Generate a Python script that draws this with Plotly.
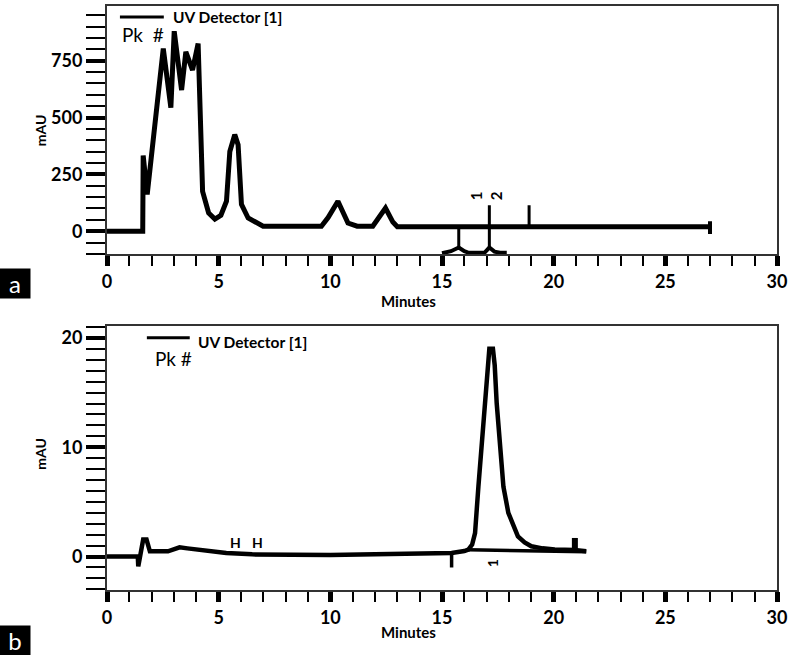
# Two HPLC chromatograms (UV detector), panel a and panel b
import plotly.graph_objects as go
from plotly.subplots import make_subplots

# Panel a: main trace (minutes, mAU)
a_time = [0, 1.6, 1.62, 1.8, 2.52, 2.86, 3.01, 3.34, 3.53, 3.83, 4.08, 4.28, 4.55, 4.83, 5.1, 5.35,
          5.5, 5.72, 5.87, 6.02, 6.32, 6.99, 9.6, 9.9, 10.34, 10.79, 11.2, 11.9, 12.47, 12.8, 13.0, 27.0]
a_mau = [0, 0, 333, 162, 804, 544, 880, 621, 789, 709, 826, 175, 80, 53, 70, 132,
         351, 425, 380, 118, 58, 22, 22, 60, 132, 36, 22, 22, 102, 40, 20, 20]
# Panel a: dropped peak shapes near the bottom
a_drop_time = [15.0, 15.4, 15.75, 16.0, 16.2, 16.9, 17.12, 17.35, 17.6, 17.9]
a_drop_mau = [-97, -88, -72, -88, -95, -95, -72, -90, -95, -95]
# Panel a: event marks (x, bottom, top)
a_mark_time = [15.75, 17.12, 18.9]
a_mark_low = [-80, -80, 20]
a_mark_high = [20, 114, 114]
a_end_time = [27.0]
a_end_low = [-12]
a_end_high = [44]
a_peak_labels = ["1", "2"]
a_peak_time = [16.54, 17.43]
a_peak_mau = [155, 155]

# Panel b: main trace
b_time = [0, 1.38, 1.40, 1.62, 1.77, 1.92, 2.73, 3.25, 3.6, 4.5, 5.34, 6.5, 8, 10, 12, 14, 15.43,
          16.0, 16.18, 16.35, 16.48, 16.63, 16.8, 16.93, 17.05, 17.12, 17.28, 17.36, 17.45, 17.6,
          17.75, 17.97, 18.2, 18.4, 18.7, 19.0, 19.5, 20.05, 20.94, 21.46]
b_mau = [0, 0, -0.9, 1.55, 1.55, 0.48, 0.48, 0.85, 0.75, 0.5, 0.33, 0.2, 0.15, 0.15, 0.2, 0.25, 0.33,
         0.5, 0.64, 1.1, 2.15, 6.4, 10.5, 14, 17.5, 19, 19, 17.5, 14, 10,
         6.4, 4.0, 2.7, 1.85, 1.3, 0.94, 0.75, 0.64, 0.6, 0.48]
b_base_time = [16.18, 21.46]
b_base_mau = [0.62, 0.45]
b_mark_time = [15.43]
b_mark_low = [-1.0]
b_mark_high = [0.33]
b_end_time = [20.95]
b_end_low = [0.5]
b_end_high = [1.7]
b_peak_labels = ["1", "H", "H"]
b_peak_time = [17.3, 5.75, 6.73]
b_peak_mau = [-0.58, 1.3, 1.3]

FONT = "Lato"


def segments(xs, lows, highs):
    # vertical segments separated by None
    x, y = [], []
    for xi, lo, hi in zip(xs, lows, highs):
        x += [xi, xi, None]
        y += [lo, hi, None]
    return x, y


fig = make_subplots(rows=2, cols=1)

# ---- panel a
fig.add_trace(go.Scatter(x=a_time, y=a_mau, mode="lines",
                         line=dict(color="black", width=5), name="UV Detector [1]"), row=1, col=1)
fig.add_trace(go.Scatter(x=a_drop_time, y=a_drop_mau, mode="lines",
                         line=dict(color="black", width=4)), row=1, col=1)
mx, my = segments(a_mark_time, a_mark_low, a_mark_high)
fig.add_trace(go.Scatter(x=mx, y=my, mode="lines", line=dict(color="black", width=3)), row=1, col=1)
ex, ey = segments(a_end_time, a_end_low, a_end_high)
fig.add_trace(go.Scatter(x=ex, y=ey, mode="lines", line=dict(color="black", width=4)), row=1, col=1)

# ---- panel b
fig.add_trace(go.Scatter(x=b_time, y=b_mau, mode="lines",
                         line=dict(color="black", width=4.5), name="UV Detector [1]"), row=2, col=1)
fig.add_trace(go.Scatter(x=b_base_time, y=b_base_mau, mode="lines",
                         line=dict(color="black", width=3.5)), row=2, col=1)
mx, my = segments(b_mark_time, b_mark_low, b_mark_high)
fig.add_trace(go.Scatter(x=mx, y=my, mode="lines", line=dict(color="black", width=3.5)), row=2, col=1)
ex, ey = segments(b_end_time, b_end_low, b_end_high)
fig.add_trace(go.Scatter(x=ex, y=ey, mode="lines", line=dict(color="black", width=6)), row=2, col=1)

# peak labels
for lab, t, v in zip(a_peak_labels, a_peak_time, a_peak_mau):
    fig.add_annotation(x=t, y=v, xref="x", yref="y", text=lab, showarrow=False, textangle=-90,
                       font=dict(family=FONT, size=15, color="black", weight="bold"))
for lab, t, v in zip(b_peak_labels, b_peak_time, b_peak_mau):
    fig.add_annotation(x=t, y=v, xref="x2", yref="y2", text=lab, showarrow=False,
                       textangle=-90 if lab == "1" else 0,
                       font=dict(family=FONT, size=14, color="black", weight="bold"))

# axes styling
tickfont = dict(family=FONT, size=18, color="black", weight="bold")
for ax in ["xaxis", "xaxis2"]:
    fig.layout[ax].update(range=[0, 30], dtick=5, tick0=0, ticks="outside", ticklen=10, tickwidth=5,
                          tickcolor="black", showgrid=False, zeroline=False, showline=True,
                          linecolor="#333", linewidth=2, mirror=True, tickfont=tickfont, domain=[0, 1],
                          minor=dict(dtick=1, ticks="outside", ticklen=10, tickwidth=2, tickcolor="black"))

fig.layout.yaxis.update(range=[-101, 991], tickvals=[0, 250, 500, 750], domain=[0.5751, 1.0])
fig.layout.yaxis.minor = dict(dtick=50, tick0=0, ticks="outside", ticklen=19, tickwidth=2, tickcolor="black")
fig.layout.yaxis2.update(range=[-3.06, 21.1], tickvals=[0, 10, 20], domain=[0.0, 0.4522])
fig.layout.yaxis2.minor = dict(dtick=1, tick0=0, ticks="outside", ticklen=19, tickwidth=2, tickcolor="black")
for ax in ["yaxis", "yaxis2"]:
    fig.layout[ax].update(ticks="outside", ticklen=19, tickwidth=4, tickcolor="black", showgrid=False,
                          zeroline=False, showline=True, linecolor="#333", linewidth=2, mirror=True,
                          tickfont=tickfont)

# axis titles
title_font = dict(family=FONT, size=15, color="black", weight="bold")
fig.add_annotation(x=13.5, y=-0.189, xref="x", yref="y domain", text="Minutes", showarrow=False,
                   xanchor="center", yanchor="middle", font=title_font)
fig.add_annotation(x=13.5, y=-0.158, xref="x2", yref="y2 domain", text="Minutes", showarrow=False,
                   xanchor="center", yanchor="middle", font=title_font)
fig.add_annotation(x=-0.0997, y=0.5, xref="x domain", yref="y domain", text="mAU", showarrow=False,
                   textangle=-90, xanchor="center", yanchor="middle",
                   font=dict(family=FONT, size=14, color="black", weight="bold"))
fig.add_annotation(x=-0.0997, y=0.517, xref="x2 domain", yref="y2 domain", text="mAU", showarrow=False,
                   textangle=-90, xanchor="center", yanchor="middle",
                   font=dict(family=FONT, size=14, color="black", weight="bold"))

# legend stand-ins: sample line + label
legend_font = dict(family=FONT, size=15.5, color="black", weight="bold")
fig.add_shape(type="line", xref="x domain", yref="y domain", x0=0.0193, x1=0.0848, y0=0.956, y1=0.956,
              line=dict(color="black", width=3))
fig.add_annotation(x=0.095, y=0.954, xref="x domain", yref="y domain", text="UV Detector [1]",
                   showarrow=False, xanchor="left", yanchor="middle", font=legend_font)
fig.add_annotation(x=0.0193, y=0.885, xref="x domain", yref="y domain", text="Pk\u00a0\u00a0#",
                   showarrow=False, xanchor="left", yanchor="middle", font=dict(family=FONT, size=19, color="black"))
fig.add_shape(type="line", xref="x2 domain", yref="y2 domain", x0=0.0595, x1=0.1235, y0=0.955, y1=0.955,
              line=dict(color="black", width=3))
fig.add_annotation(x=0.133, y=0.94, xref="x2 domain", yref="y2 domain", text="UV Detector [1]",
                   showarrow=False, xanchor="left", yanchor="middle", font=legend_font)
fig.add_annotation(x=0.069, y=0.875, xref="x2 domain", yref="y2 domain", text="Pk #",
                   showarrow=False, xanchor="left", yanchor="middle", font=dict(family=FONT, size=19, color="black"))

for letter, ypos in [("a", 0.5247), ("b", -0.0862)]:
    fig.add_annotation(x=-0.1369, y=ypos, xref="paper", yref="paper", text=letter, showarrow=False,
                       xanchor="center", yanchor="middle", width=30, height=29, bgcolor="black", borderpad=0,
                       font=dict(family=FONT, size=24, color="white"))

fig.update_layout(width=791, height=655, margin=dict(l=107, r=12, t=4, b=65),
                  paper_bgcolor="white", plot_bgcolor="white", showlegend=False)

fig.write_html("out.html", config={"displayModeBar": False},
               post_script="document.body.style.margin = '0';")
